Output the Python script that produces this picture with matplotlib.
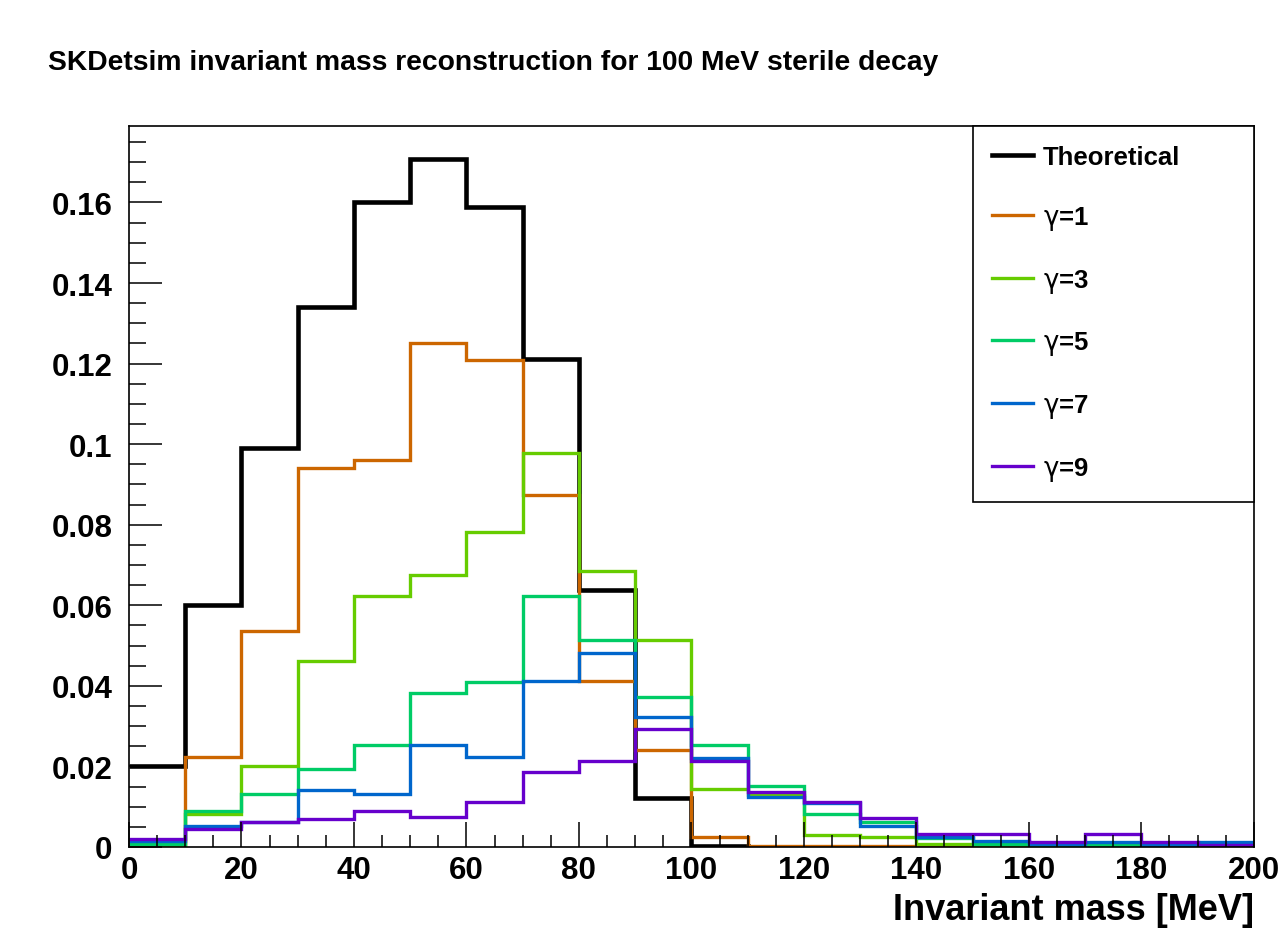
import numpy as np
import matplotlib.pyplot as plt
from matplotlib.ticker import MultipleLocator, FuncFormatter

plt.rcParams['font.family'] = ['Liberation Sans', 'DejaVu Sans']
# upright, non-bold greek letters in the legend
plt.rcParams['mathtext.fontset'] = 'custom'
plt.rcParams['mathtext.rm'] = 'DejaVu Sans'
plt.rcParams['mathtext.it'] = 'DejaVu Sans'

# 10 MeV bins from 0 to 200 MeV
edges = np.arange(0, 201, 10)

theory = [0.0200, 0.0600, 0.0990, 0.1340, 0.1600, 0.1707, 0.1590, 0.1212, 0.0639, 0.0122,
          0.0003, 0.0, 0.0, 0.0, 0.0, 0.0, 0.0, 0.0, 0.0, 0.0]
gamma1 = [0.0000, 0.0224, 0.0537, 0.0940, 0.0960, 0.1252, 0.1210, 0.0873, 0.0413, 0.0242,
          0.0025, 0.0003, 0.0003, 0.0003, 0.0, 0.0, 0.0, 0.0, 0.0, 0.0]
gamma3 = [0.0001, 0.0082, 0.0201, 0.0462, 0.0624, 0.0676, 0.0783, 0.0979, 0.0685, 0.0514,
          0.0143, 0.0130, 0.0030, 0.0025, 0.0008, 0.0005, 0.0003, 0.0004, 0.0005, 0.0000]
gamma5 = [0.0007, 0.0089, 0.0132, 0.0194, 0.0252, 0.0383, 0.0410, 0.0624, 0.0514, 0.0373,
          0.0252, 0.0151, 0.0082, 0.0062, 0.0022, 0.0008, 0.0005, 0.0006, 0.0004, 0.0003]
gamma7 = [0.0014, 0.0053, 0.0062, 0.0142, 0.0132, 0.0252, 0.0224, 0.0413, 0.0482, 0.0323,
          0.0221, 0.0124, 0.0110, 0.0053, 0.0025, 0.0015, 0.0008, 0.0012, 0.0006, 0.0013]
gamma9 = [0.0021, 0.0045, 0.0062, 0.0070, 0.0090, 0.0074, 0.0111, 0.0186, 0.0213, 0.0292,
          0.0214, 0.0136, 0.0111, 0.0071, 0.0032, 0.0032, 0.0012, 0.0032, 0.0012, 0.0006]

series = [
    (theory, 'Theoretical', 'black', 3.3),
    (gamma1, r'$\gamma$=1', '#cc6600', 2.4),
    (gamma3, r'$\gamma$=3', '#66cc00', 2.4),
    (gamma5, r'$\gamma$=5', '#00cc66', 2.4),
    (gamma7, r'$\gamma$=7', '#0066cc', 2.4),
    (gamma9, r'$\gamma$=9', '#6600cc', 2.4),
]

fig = plt.figure(figsize=(12.82, 9.37), dpi=100)
ax = fig.add_axes([0.1006, 0.095, 0.8774, 0.7695])

for vals, lab, col, lw in series:
    ax.stairs(vals, edges, baseline=None, color=col, lw=lw, label=lab)

ax.set_xlim(0, 200)
ax.set_ylim(0, 0.179)

ax.xaxis.set_major_locator(MultipleLocator(20))
ax.xaxis.set_minor_locator(MultipleLocator(5))
ax.yaxis.set_major_locator(MultipleLocator(0.02))
ax.yaxis.set_minor_locator(MultipleLocator(0.005))
ax.yaxis.set_major_formatter(FuncFormatter(lambda v, p: '0' if abs(v) < 1e-9 else ('%.2f' % v).rstrip('0')))

ax.tick_params(which='both', direction='in', top=False, right=False, width=1.1, color='black')
ax.tick_params(axis='x', which='major', length=18, labelsize=22.5, pad=6)
ax.tick_params(axis='x', which='minor', length=9)
ax.tick_params(axis='y', which='major', length=24, labelsize=22.5, pad=12)
ax.tick_params(axis='y', which='minor', length=12)
for t in ax.get_xticklabels() + ax.get_yticklabels():
    t.set_fontweight('bold')
for s in ax.spines.values():
    s.set_linewidth(1.2)

ax.set_xlabel('Invariant mass [MeV]', fontsize=26, fontweight='bold', loc='right', labelpad=5)

fig.text(0.0375, 0.925, 'SKDetsim invariant mass reconstruction for 100 MeV sterile decay',
         fontsize=20.3, fontweight='bold', ha='left', va='baseline')

leg = ax.legend(loc='upper left', bbox_to_anchor=(0.75, 0.473, 0.25, 0.527), mode='expand',
                fancybox=False, edgecolor='black', framealpha=1, borderaxespad=0,
                prop={'size': 18.5, 'weight': 'bold'}, handlelength=1.6, handletextpad=0.4,
                labelspacing=1.35, borderpad=0.75)
leg.get_frame().set_linewidth(1.2)

fig.savefig('out.png', dpi=100)
